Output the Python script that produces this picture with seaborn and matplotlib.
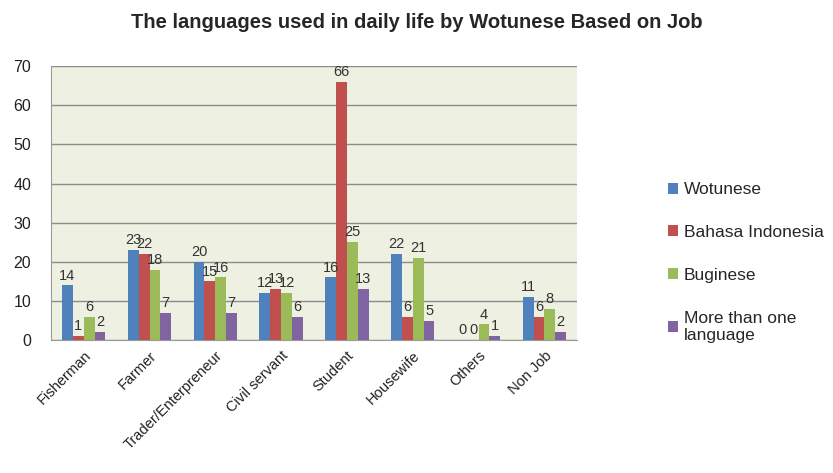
import pandas as pd
import matplotlib
matplotlib.use("Agg")
import matplotlib.pyplot as plt
import seaborn as sns

jobs = ["Fisherman", "Farmer", "Trader/Enterpreneur", "Civil servant",
        "Student", "Housewife", "Others", "Non Job"]
wotunese = [14, 23, 20, 12, 16, 22, 0, 11]
bahasa = [1, 22, 15, 13, 66, 6, 0, 6]
buginese = [6, 18, 16, 12, 25, 21, 4, 8]
more_than_one = [2, 7, 7, 6, 13, 5, 1, 2]
series = ["Wotunese", "Bahasa Indonesia", "Buginese", "More than one\nlanguage"]
colors = ["#4F81BD", "#C0504D", "#9BBB59", "#8064A2"]

rows = []
for name, vals in zip(series, [wotunese, bahasa, buginese, more_than_one]):
    for job, v in zip(jobs, vals):
        rows.append({"Job": job, "Language": name, "Count": v})
df = pd.DataFrame(rows)

sns.set_style("white")
plt.rcParams["font.family"] = ["Liberation Sans", "DejaVu Sans"]

fig = plt.figure(figsize=(8.33, 4.73), dpi=100)
ax = fig.add_axes([0.061, 0.281, 0.632, 0.579])
ax.set_facecolor("#EEF0E2")

sns.barplot(data=df, x="Job", y="Count", hue="Language", palette=colors,
            order=jobs, hue_order=series, width=0.66, saturation=1,
            edgecolor="none", ax=ax, zorder=3)

for cont in ax.containers:
    ax.bar_label(cont, fontsize=10.5, color="#333333", padding=2)

ax.set_ylim(0, 70)
ax.set_yticks(range(0, 71, 10))
ax.yaxis.grid(True, color="#8c8c8c", linewidth=1, zorder=0)
ax.set_axisbelow(True)
ax.set_xlabel("")
ax.set_ylabel("")
ax.tick_params(axis="y", labelsize=11.5, colors="#222222", length=0, pad=14)
ax.tick_params(axis="x", labelsize=10.5, colors="#222222", length=0, pad=6)
plt.setp(ax.get_xticklabels(), rotation=45, ha="right", rotation_mode="anchor")
for s in ["top", "right"]:
    ax.spines[s].set_visible(False)
for s in ["left", "bottom"]:
    ax.spines[s].set_color("#9a9a9a")

ax.legend(loc="upper left", bbox_to_anchor=(0.791, 0.633),
          bbox_transform=fig.transFigure, frameon=False, borderpad=0,
          fontsize=12.5, handlelength=0.6, handleheight=0.6, handletextpad=0.35,
          labelspacing=1.6)

fig.suptitle("The languages used in daily life by Wotunese Based on Job",
             x=0.5, y=0.972, fontsize=14.5, fontweight="bold")

fig.savefig("out.png", dpi=100)
